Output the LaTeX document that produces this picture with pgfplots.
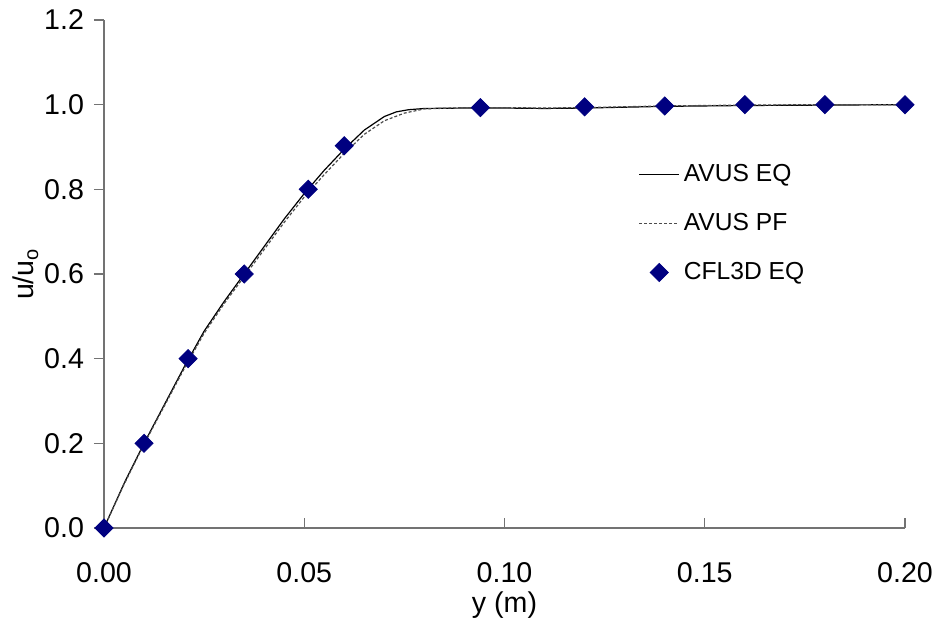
\documentclass[border=0pt]{standalone}
\usepackage{fontspec}
\setmainfont{Liberation Sans}
\usepackage{pgfplots}
\pgfplotsset{compat=1.18}
\usetikzlibrary{calc}
\definecolor{navymark}{HTML}{000080}

\begin{document}
\begin{tikzpicture}[x=1pt,y=1pt]
\begin{axis}[
  scale only axis,
  width=400.5pt,height=254pt,
  xmin=0,xmax=0.2,ymin=0,ymax=1.2,
  axis lines*=left,
  axis line style={black!55,line width=0.6pt},
  xtick={0,0.05,0.1,0.15,0.2},
  ytick={0,0.2,0.4,0.6,0.8,1.0,1.2},
  xticklabel style={/pgf/number format/.cd,fixed,fixed zerofill,precision=2},
  yticklabel style={/pgf/number format/.cd,fixed,fixed zerofill,precision=1},
  /pgf/number format/assume math mode=true,
  x tick style={black!55,line width=0.6pt},
  y tick style={black!55,line width=0.6pt},
  xtick align=inside, ytick align=outside,
  major tick length=5pt,
  scaled x ticks=false,
  tick label style={font=\fontsize{14.3}{16}\selectfont},
  xticklabel shift=13.5pt,
  yticklabel shift=1.5pt,
  xlabel={y (m)},
  ylabel={u/u\textsubscript{o}},
  label style={font=\fontsize{14.3}{16}\selectfont},
  xlabel shift=-2pt,
  ylabel shift=-4pt,
  clip=false,
  legend style={draw=none,fill=none,at={(rel axis cs:0.667,0.733)},anchor=north west,
    font=\fontsize{12.3}{14}\selectfont,row sep=10.5pt,inner xsep=0pt},
  legend cell align=left,
  legend image code/.code={\draw[mark repeat=2,mark phase=2,#1]
    plot coordinates {(0pt,0pt) (10pt,0pt) (20pt,0pt)};},
]
\addplot[black,line width=0.6pt] coordinates {
(0,0) (0.005,0.105) (0.01,0.2) (0.015,0.29) (0.02,0.38) (0.025,0.465)
(0.03,0.535) (0.035,0.6) (0.04,0.665) (0.045,0.73) (0.05,0.79) (0.055,0.845)
(0.06,0.895) (0.065,0.94) (0.07,0.972) (0.073,0.983) (0.076,0.988) (0.08,0.991)
(0.09,0.992) (0.1,0.992) (0.11,0.991) (0.12,0.992) (0.14,0.996) (0.16,0.998)
(0.18,0.999) (0.2,1.0)};
\addlegendentry{AVUS EQ}
\addplot[black!70,line width=0.6pt,dash pattern=on 1.5pt off 1pt] coordinates {
(0,0) (0.005,0.103) (0.01,0.198) (0.015,0.287) (0.02,0.376) (0.025,0.46)
(0.03,0.53) (0.035,0.594) (0.04,0.658) (0.045,0.722) (0.05,0.782) (0.055,0.835)
(0.06,0.885) (0.065,0.93) (0.07,0.962) (0.075,0.98) (0.08,0.99)
(0.09,0.993) (0.1,0.993) (0.11,0.992) (0.12,0.993) (0.14,0.997) (0.16,0.999)
(0.18,1.0) (0.2,1.0)};
\addlegendentry{AVUS PF}
\addplot[only marks,mark=square*,mark size=3.2pt,
  mark options={fill=navymark,draw=navymark,rotate=45}] coordinates {
(0,0) (0.01,0.2) (0.021,0.4) (0.035,0.6) (0.051,0.8) (0.06,0.903)
(0.094,0.993) (0.12,0.995) (0.14,0.997) (0.16,1.0) (0.18,1.0) (0.2,1.0)};
\addlegendentry{CFL3D EQ}
\end{axis}
\pgfresetboundingbox
\path ($(current axis.south west)+(-52pt,-48pt)$) rectangle ($(current axis.north east)+(17pt,10pt)$);
\end{tikzpicture}
\end{document}
